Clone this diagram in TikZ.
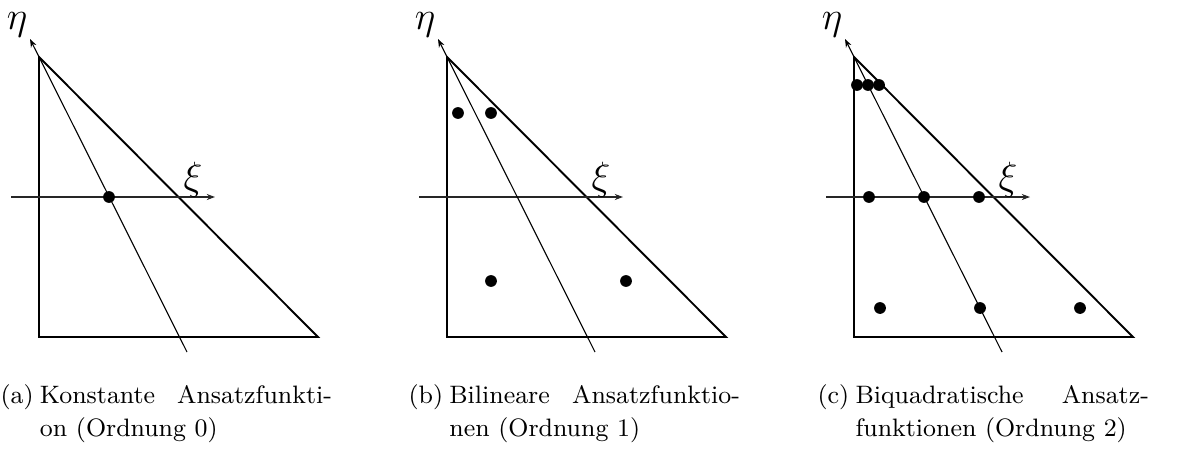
\documentclass[tikz,border=0pt]{standalone}
\usepackage{tikz}
\usetikzlibrary{arrows.meta,positioning}
\tikzset{
    tri/.style={line width=0.7pt, line join=miter},
    xiaxis/.style={line width=0.4pt, black!85, -{Stealth[length=3pt, width=2.2pt]}},
    etaaxis/.style={line width=0.4pt, -{Stealth[length=3pt, width=2.2pt]}},
    gp/.style={circle, fill=black, inner sep=0pt, minimum size=4.3pt},
    axlabel/.style={inner sep=0pt, font=\Large},
    subcap/.style={anchor=north west, inner sep=0pt, text width=121pt, align=justify,
        font=\fontsize{9.2}{12}\selectfont},
}
\newcommand{\capitem}[2]{\leavevmode\setbox0\hbox{#1\hspace{0.25em}}\hangindent=\wd0 \hangafter=1 \box0 #2\par}

\begin{document}
\begin{tikzpicture}[x=0.01283cm, y=-0.01283cm]
    \useasboundingbox (0,0) rectangle (1191,472);

    % drei Elemente, je um 408 px verschoben
    \foreach \ox/\p in {0/a, 408/b, 815/c} {
        \begin{scope}[shift={(\ox,0)}]
            \coordinate (top\p) at (39,57);
            \coordinate (bl\p) at (39,337);
            \coordinate (br\p) at (318,337);
            \coordinate (etaS\p) at (187,352);
            \coordinate (etaE\p) at (30,39);
            \coordinate (xiS\p) at (11,197);
            \coordinate (xiE\p) at (215,197);
            \draw[tri] (top\p) -- (bl\p) -- (br\p) -- cycle;
            \draw[xiaxis] (xiS\p) -- (xiE\p);
            \draw[etaaxis] (etaS\p) -- (etaE\p);
            \node[axlabel] (eta\p) at (17,25) {$\eta$};
            \node[axlabel] (xi\p) at (193,180) {$\xi$};
        \end{scope}
    }

    % Integrationspunkte
    \node[gp] (pa1) at (109,197) {};

    \foreach \x/\y [count=\i] in {50/113, 83/113, 83/281, 218/281}
        \node[gp] (pb\i) at (408+\x,\y) {};

    \foreach \x/\y [count=\i] in {42/85, 53/85, 64/85, 54/197, 109/197, 164/197, 65/308, 165/308, 265/308}
        \node[gp] (pc\i) at (815+\x,\y) {};

    % Unterschriften
    \node[subcap] (capA) at (0,384) {\capitem{(a)}{Konstante Ansatzfunkti-\linebreak on (Ordnung~0)}};
    \node[subcap] (capB) at (408,384) {\capitem{(b)}{Bilineare Ansatzfunktio-\linebreak nen (Ordnung~1)}};
    \node[subcap] (capC) at (817,384) {\capitem{(c)}{Biquadratische Ansatz-\linebreak funktionen (Ordnung~2)}};
\end{tikzpicture}
\end{document}
